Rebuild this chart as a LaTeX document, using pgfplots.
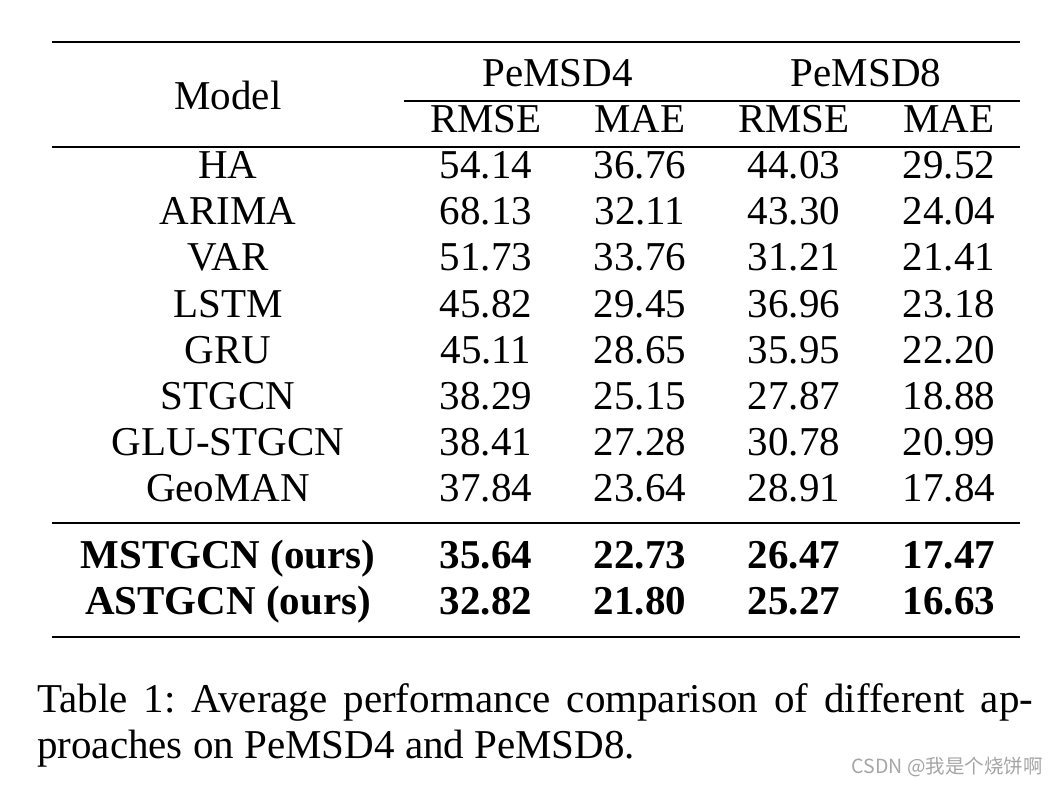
\documentclass[border=0pt]{standalone}
\usepackage{pgfplots}
\pgfplotsset{compat=1.18}
\usepackage{fontspec}
\setmainfont{Liberation Serif}
\newfontfamily\cjk{Noto Sans CJK SC}
\definecolor{wm}{RGB}{165,165,165}
\frenchspacing
\newcommand\capone{\makebox[996pt][s]{Table 1: Average performance comparison of different ap-}}
\newcommand\captwo{proaches on PeMSD4 and PeMSD8.}
\newcommand\wmark{{\cjk\fontsize{19.5}{22}\selectfont\color{wm}CSDN @我是个烧饼啊}}
\begin{document}
\begin{tikzpicture}
\begin{axis}[
  scale only axis, width=1060pt, height=786pt,
  xmin=0, xmax=1060, ymin=0, ymax=786, y dir=reverse,
  hide axis, clip=false,
  txt/.style={draw=none, mark=none, nodes near coords, point meta=explicit symbolic,
    every node near coord/.append style={anchor=base, inner sep=0pt, yshift=0pt, text=black,
      font=\fontsize{41}{49}\selectfont}},
  txtb/.style={txt, every node near coord/.append style={font=\fontsize{41}{49}\selectfont\bfseries}},
]
% bounding frame
\addplot[draw=none] coordinates {(0,0) (1060,786)};
% rules
\addplot[line width=2.8pt] coordinates {(52,42) (1020,42)};
\addplot[line width=1.5pt] coordinates {(404,101) (1020,101)};
\addplot[line width=1.5pt] coordinates {(52,147) (1020,147)};
\addplot[line width=1.5pt] coordinates {(52,523) (1020,523)};
\addplot[line width=2.8pt] coordinates {(52,637) (1020,637)};
% header
\addplot[txt] coordinates {(228,110) [Model] (557.5,87) [PeMSD4] (866,87) [PeMSD8]
  (486,133) [RMSE] (640,133) [MAE] (794,133) [RMSE] (949,133) [MAE]};
% model names
\addplot[txt] coordinates {(228,179) [HA] (228,225) [ARIMA] (228,271) [VAR] (228,317) [LSTM]
  (228,363) [GRU] (228,409) [STGCN] (228,455) [GLU-STGCN] (228,501) [GeoMAN]};
% PeMSD4 RMSE
\addplot[txt] coordinates {(486,179) [54.14] (486,225) [68.13] (486,271) [51.73] (486,317) [45.82]
  (486,363) [45.11] (486,409) [38.29] (486,455) [38.41] (486,501) [37.84]};
% PeMSD4 MAE
\addplot[txt] coordinates {(640,179) [36.76] (640,225) [32.11] (640,271) [33.76] (640,317) [29.45]
  (640,363) [28.65] (640,409) [25.15] (640,455) [27.28] (640,501) [23.64]};
% PeMSD8 RMSE
\addplot[txt] coordinates {(794,179) [44.03] (794,225) [43.30] (794,271) [31.21] (794,317) [36.96]
  (794,363) [35.95] (794,409) [27.87] (794,455) [30.78] (794,501) [28.91]};
% PeMSD8 MAE
\addplot[txt] coordinates {(949,179) [29.52] (949,225) [24.04] (949,271) [21.41] (949,317) [23.18]
  (949,363) [22.20] (949,409) [18.88] (949,455) [20.99] (949,501) [17.84]};
% ours (bold)
\addplot[txtb] coordinates {(228,568) [MSTGCN (ours)] (486,568) [35.64] (640,568) [22.73] (794,568) [26.47] (949,568) [17.47]
  (228,614) [ASTGCN (ours)] (486,614) [32.82] (640,614) [21.80] (794,614) [25.27] (949,614) [16.63]};
% caption
\addplot[txt, every node near coord/.append style={anchor=base west}] coordinates {(37,712) [\capone] (37,758) [\captwo]};
% watermark
\addplot[txt, every node near coord/.append style={anchor=base east}] coordinates {(1043,773) [\wmark]};
\end{axis}
\end{tikzpicture}
\end{document}
